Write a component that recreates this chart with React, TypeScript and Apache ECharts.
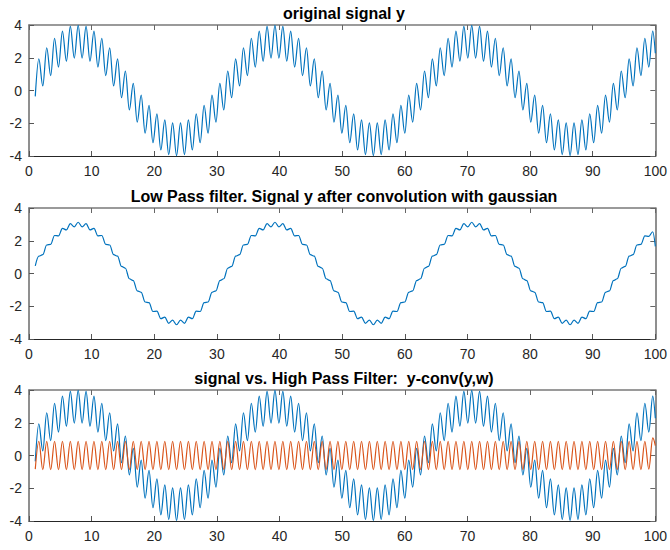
import { useEffect, useRef } from "react";
import * as echarts from "echarts";

// Sample positions (extrema of the fast oscillation)
const T = [
  1, 1.57, 2.2, 2.83, 3.46, 4.08, 4.71, 5.34, 5.97, 6.6,
  7.23, 7.85, 8.48, 9.11, 9.74, 10.37, 11.0, 11.62, 12.25, 12.88,
  13.51, 14.14, 14.77, 15.39, 16.02, 16.65, 17.28, 17.91, 18.54, 19.16,
  19.79, 20.42, 21.05, 21.68, 22.31, 22.93, 23.56, 24.19, 24.82, 25.45,
  26.08, 26.7, 27.33, 27.96, 28.59, 29.22, 29.85, 30.47, 31.1, 31.73,
  32.36, 32.99, 33.62, 34.24, 34.87, 35.5, 36.13, 36.76, 37.38, 38.01,
  38.64, 39.27, 39.9, 40.53, 41.15, 41.78, 42.41, 43.04, 43.67, 44.3,
  44.92, 45.55, 46.18, 46.81, 47.44, 48.07, 48.69, 49.32, 49.95, 50.58,
  51.21, 51.84, 52.46, 53.09, 53.72, 54.35, 54.98, 55.61, 56.23, 56.86,
  57.49, 58.12, 58.75, 59.38, 60.0, 60.63, 61.26, 61.89, 62.52, 63.15,
  63.77, 64.4, 65.03, 65.66, 66.29, 66.92, 67.54, 68.17, 68.8, 69.43,
  70.06, 70.69, 71.31, 71.94, 72.57, 73.2, 73.83, 74.46, 75.08, 75.71,
  76.34, 76.97, 77.6, 78.23, 78.85, 79.48, 80.11, 80.74, 81.37, 82.0,
  82.62, 83.25, 83.88, 84.51, 85.14, 85.77, 86.39, 87.02, 87.65, 88.28,
  88.91, 89.53, 90.16, 90.79, 91.42, 92.05, 92.68, 93.3, 93.93, 94.56,
  95.19, 95.82, 96.45, 97.07, 97.7, 98.33, 98.96, 99.59, 100,
];

// original signal y
const SIGNAL = [
  -0.36, 1.93, 0.28, 2.61, 0.91, 3.19, 1.43, 3.63, 1.79, 3.91,
  1.98, 3.98, 1.98, 3.91, 1.79, 3.63, 1.43, 3.19, 0.91, 2.61,
  0.28, 1.93, -0.44, 1.19, -1.19, 0.44, -1.93, -0.28, -2.61, -0.91,
  -3.19, -1.43, -3.63, -1.79, -3.91, -1.98, -3.98, -1.98, -3.91, -1.79,
  -3.63, -1.43, -3.19, -0.91, -2.61, -0.28, -1.93, 0.44, -1.19, 1.19,
  -0.44, 1.93, 0.28, 2.61, 0.91, 3.19, 1.43, 3.63, 1.79, 3.91,
  1.98, 3.98, 1.98, 3.91, 1.79, 3.63, 1.43, 3.19, 0.91, 2.61,
  0.28, 1.93, -0.44, 1.19, -1.19, 0.44, -1.93, -0.28, -2.61, -0.91,
  -3.19, -1.43, -3.63, -1.79, -3.91, -1.98, -3.98, -1.98, -3.91, -1.79,
  -3.63, -1.43, -3.19, -0.91, -2.61, -0.28, -1.93, 0.44, -1.19, 1.19,
  -0.44, 1.93, 0.28, 2.61, 0.91, 3.19, 1.43, 3.63, 1.79, 3.91,
  1.98, 3.98, 1.98, 3.91, 1.79, 3.63, 1.43, 3.19, 0.91, 2.61,
  0.28, 1.93, -0.44, 1.19, -1.19, 0.44, -1.93, -0.28, -2.61, -0.91,
  -3.19, -1.43, -3.63, -1.79, -3.91, -1.98, -3.98, -1.98, -3.91, -1.79,
  -3.63, -1.43, -3.19, -0.91, -2.61, -0.28, -1.93, 0.44, -1.19, 1.19,
  -0.44, 1.93, 0.28, 2.61, 0.91, 3.19, 1.43, 3.63, 2.27,
];

// low pass: y after convolution with gaussian
const LOW_PASS = [
  0.47, 1.06, 1.15, 1.74, 1.78, 2.32, 2.3, 2.76, 2.66, 3.04,
  2.85, 3.13, 2.85, 3.04, 2.66, 2.76, 2.3, 2.32, 1.78, 1.74,
  1.15, 1.06, 0.43, 0.32, -0.32, -0.43, -1.06, -1.15, -1.74, -1.78,
  -2.32, -2.3, -2.76, -2.66, -3.04, -2.85, -3.13, -2.85, -3.04, -2.66,
  -2.76, -2.3, -2.32, -1.78, -1.74, -1.15, -1.06, -0.43, -0.32, 0.32,
  0.43, 1.06, 1.15, 1.74, 1.78, 2.32, 2.3, 2.76, 2.66, 3.04,
  2.85, 3.13, 2.85, 3.04, 2.66, 2.76, 2.3, 2.32, 1.78, 1.74,
  1.15, 1.06, 0.43, 0.32, -0.32, -0.43, -1.06, -1.15, -1.74, -1.78,
  -2.32, -2.3, -2.76, -2.66, -3.04, -2.85, -3.13, -2.85, -3.04, -2.66,
  -2.76, -2.3, -2.32, -1.78, -1.74, -1.15, -1.06, -0.43, -0.32, 0.32,
  0.43, 1.06, 1.15, 1.74, 1.78, 2.32, 2.3, 2.76, 2.66, 3.04,
  2.85, 3.13, 2.85, 3.04, 2.66, 2.76, 2.3, 2.32, 1.78, 1.74,
  1.15, 1.06, 0.43, 0.32, -0.32, -0.43, -1.06, -1.15, -1.74, -1.78,
  -2.32, -2.3, -2.76, -2.66, -3.04, -2.85, -3.13, -2.85, -3.04, -2.66,
  -2.76, -2.3, -2.32, -1.78, -1.74, -1.15, -1.06, -0.43, -0.32, 0.32,
  0.43, 1.06, 1.15, 1.74, 1.78, 2.3, 2.27, 2.55, 1.66,
];

// high pass: y - conv(y, w)
const HIGH_PASS = [
  -0.83, 0.87, -0.87, 0.87, -0.87, 0.87, -0.87, 0.87, -0.87, 0.87,
  -0.87, 0.87, -0.87, 0.87, -0.87, 0.87, -0.87, 0.87, -0.87, 0.87,
  -0.87, 0.87, -0.87, 0.87, -0.87, 0.87, -0.87, 0.87, -0.87, 0.87,
  -0.87, 0.87, -0.87, 0.87, -0.87, 0.87, -0.87, 0.87, -0.87, 0.87,
  -0.87, 0.87, -0.87, 0.87, -0.87, 0.87, -0.87, 0.87, -0.87, 0.87,
  -0.87, 0.87, -0.87, 0.87, -0.87, 0.87, -0.87, 0.87, -0.87, 0.87,
  -0.87, 0.87, -0.87, 0.87, -0.87, 0.87, -0.87, 0.87, -0.87, 0.87,
  -0.87, 0.87, -0.87, 0.87, -0.87, 0.87, -0.87, 0.87, -0.87, 0.87,
  -0.87, 0.87, -0.87, 0.87, -0.87, 0.87, -0.87, 0.87, -0.87, 0.87,
  -0.87, 0.87, -0.87, 0.87, -0.87, 0.87, -0.87, 0.87, -0.87, 0.87,
  -0.87, 0.87, -0.87, 0.87, -0.87, 0.87, -0.87, 0.87, -0.87, 0.87,
  -0.87, 0.87, -0.87, 0.87, -0.87, 0.87, -0.87, 0.87, -0.87, 0.87,
  -0.87, 0.87, -0.87, 0.87, -0.87, 0.87, -0.87, 0.87, -0.87, 0.87,
  -0.87, 0.87, -0.87, 0.87, -0.87, 0.87, -0.87, 0.87, -0.87, 0.87,
  -0.87, 0.87, -0.87, 0.87, -0.87, 0.87, -0.87, 0.87, -0.87, 0.87,
  -0.87, 0.87, -0.87, 0.87, -0.87, 0.87, -0.84, 1.08, 0.61,
];

const TITLES = [
  "original signal y",
  "Low Pass filter. Signal y after convolution with gaussian",
  "signal vs. High Pass Filter:  y-conv(y,w)",
];
const X_RANGE = [0, 100];
const X_STEP = 10;
const Y_RANGE = [-4, 4];
const Y_STEP = 2;

const BLUE = "#0072BD";
const ORANGE = "#D95319";
const FONT = "'Liberation Sans', Arial, Helvetica, sans-serif";

export default function App() {
  const ref = useRef<HTMLDivElement>(null);

  useEffect(() => {
    const chart = echarts.init(ref.current!, null, { renderer: "svg" });
    const tops = [25, 208, 390];
    const titleY = [13.5, 196.5, 378.5];
    const pair = (ys: number[]) => T.map((t, i) => [t, ys[i]]);

    const grid = tops.map((top) => ({ left: 29, right: 11, top, height: 131 }));

    const xAxis: any[] = [];
    const yAxis: any[] = [];
    tops.forEach((_, i) => {
      xAxis.push({
        type: "value", gridIndex: i, position: "bottom",
        min: X_RANGE[0], max: X_RANGE[1], interval: X_STEP,
        axisLine: { show: true, onZero: false, lineStyle: { color: "#262626", width: 1 } },
        axisTick: { show: true, inside: true, length: 5, lineStyle: { color: "#555", width: 1 } },
        axisLabel: { color: "#262626", fontSize: 14, margin: 8, fontFamily: FONT },
        splitLine: { show: false },
      });
      yAxis.push({
        type: "value", gridIndex: i, position: "left",
        min: Y_RANGE[0], max: Y_RANGE[1], interval: Y_STEP,
        axisLine: { show: true, onZero: false, lineStyle: { color: "#6a6a6a", width: 1.5 } },
        axisTick: { show: true, inside: true, length: 5, lineStyle: { color: "#555", width: 1 } },
        axisLabel: { color: "#262626", fontSize: 14, margin: 7, fontFamily: FONT },
        splitLine: { show: false },
      });
    });
    tops.forEach((_, i) => {
      xAxis.push({
        type: "value", gridIndex: i, position: "top",
        min: X_RANGE[0], max: X_RANGE[1], interval: X_STEP,
        axisLine: { show: true, onZero: false, lineStyle: { color: "#7a7a7a", width: 1.5 } },
        axisTick: { show: true, inside: true, length: 5, lineStyle: { color: "#666", width: 1 } },
        axisLabel: { show: false },
        splitLine: { show: false },
      });
      yAxis.push({
        type: "value", gridIndex: i, position: "right",
        min: Y_RANGE[0], max: Y_RANGE[1], interval: Y_STEP,
        axisLine: { show: true, onZero: false, lineStyle: { color: "#6a6a6a", width: 1.5 } },
        axisTick: { show: true, inside: true, length: 5, lineStyle: { color: "#666", width: 1 } },
        axisLabel: { show: false },
        splitLine: { show: false },
      });
    });

    const lineSeries = (name: string, data: number[][], idx: number, color: string) => ({
      name, type: "line", xAxisIndex: idx, yAxisIndex: idx, data,
      showSymbol: false, symbol: "none", smooth: 0.35, smoothMonotone: "x",
      lineStyle: { color, width: 1.2 }, clip: true, silent: true,
    });

    chart.setOption({
      animation: false,
      backgroundColor: "#ffffff",
      grid,
      xAxis,
      yAxis,
      graphic: TITLES.map((t, i) => ({
        type: "text",
        x: 344,
        y: titleY[i],
        style: {
          text: t,
          fill: "#000",
          font: `bold 16px ${FONT}`,
          align: "center",
          verticalAlign: "middle",
        },
      })),
      series: [
        lineSeries("y", pair(SIGNAL), 0, BLUE),
        lineSeries("low pass", pair(LOW_PASS), 1, BLUE),
        lineSeries("y", pair(SIGNAL), 2, BLUE),
        lineSeries("high pass", pair(HIGH_PASS), 2, ORANGE),
      ],
    });
    return () => chart.dispose();
  }, []);

  return (
    <div
      ref={ref}
      style={{ position: "fixed", left: 0, top: 0, width: 670, height: 550, background: "#fff" }}
    />
  );
}
